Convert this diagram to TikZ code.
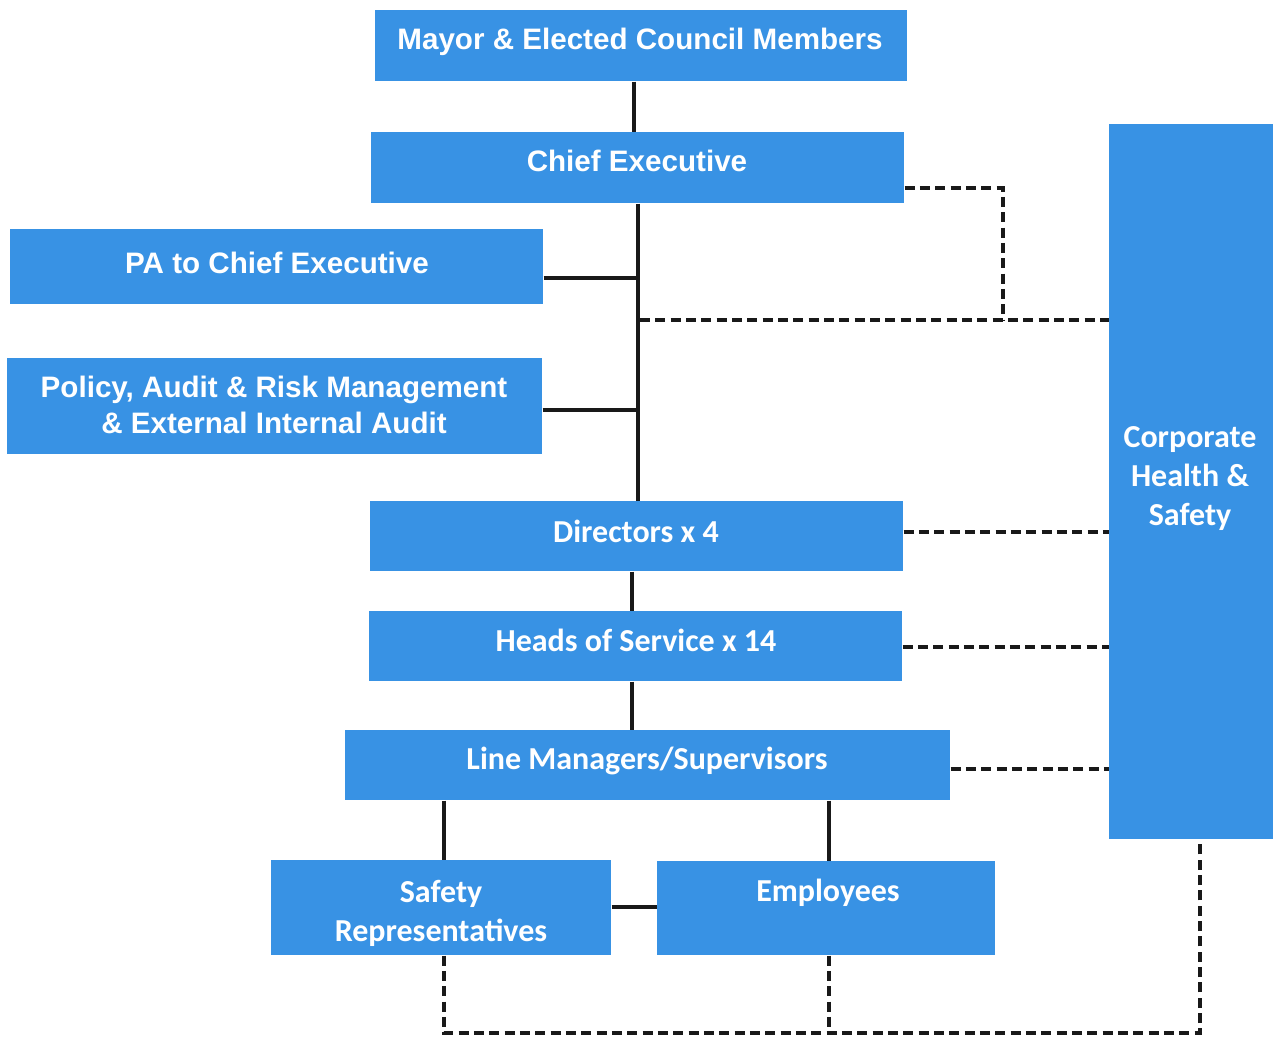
\documentclass[tikz,border=0pt]{standalone}
\usepackage{fontspec}
\setmainfont{Liberation Sans}
\newfontfamily\calfnt{Carlito}
\begin{document}
\begin{tikzpicture}[x=0.75pt,y=-0.75pt]
\definecolor{boxblue}{RGB}{56,146,228}
\tikzset{
  box/.style={fill=boxblue,draw=none,inner sep=0pt,anchor=north west},
  ar/.style={font=\bfseries\fontsize{22.2}{27}\selectfont,text=white,align=center},
  cb/.style={font=\calfnt\bfseries\fontsize{24}{29.25}\selectfont,text=white,align=center},
  solidln/.style={line width=3pt,black!90},
  dashln/.style={line width=2.6pt,black!90,dash pattern=on 7.5pt off 4pt}
}
\useasboundingbox (0,0) rectangle (1273,1036);
% boxes
\node[box,minimum width=532*0.75pt,minimum height=71*0.75pt] (mayor) at (375,10) {};
\node[box,minimum width=533*0.75pt,minimum height=71*0.75pt] (ce) at (371,132) {};
\node[box,minimum width=533*0.75pt,minimum height=75*0.75pt] (pa) at (10,229) {};
\node[box,minimum width=535*0.75pt,minimum height=96*0.75pt] (pol) at (7,358) {};
\node[box,minimum width=533*0.75pt,minimum height=70*0.75pt] (dir) at (370,501) {};
\node[box,minimum width=533*0.75pt,minimum height=70*0.75pt] (hos) at (369,611) {};
\node[box,minimum width=605*0.75pt,minimum height=70*0.75pt] (lm) at (345,730) {};
\node[box,minimum width=340*0.75pt,minimum height=95*0.75pt] (sr) at (271,860) {};
\node[box,minimum width=338*0.75pt,minimum height=94*0.75pt] (emp) at (657,861) {};
\node[box,minimum width=164*0.75pt,minimum height=715*0.75pt] (chs) at (1109,124) {};
% texts
\node[ar] (tmayor) at (640,42) {Mayor \& Elected Council Members};
\node[ar] (tce) at (637,161) {Chief Executive};
\node[ar] (tpa) at (277,263) {PA to Chief Executive};
\node[ar] (tpol) at (274,405) {Policy, Audit \& Risk Management\\\& External Internal Audit};
\node[cb] (tdir) at (636,531) {Directors x 4};
\node[cb] (thos) at (636,640) {Heads of Service x 14};
\node[cb] (tlm) at (647,761) {Line Managers/Supervisors};
\node[cb] (tsr) at (441,913) {Safety\\Representatives};
\node[cb] (temp) at (828,893) {Employees};
\node[cb] (tchs) at (1190,479) {Corporate\\Health \&\\Safety};
% solid connectors
\draw[solidln] (634,0 |- mayor.south) -- (634,0 |- ce.north);
\draw[solidln] (638,0 |- ce.south) -- (638,0 |- dir.north);
\draw[solidln] (pa.east |- 0,278) -- (638,278);
\draw[solidln] (pol.east |- 0,410) -- (638,410);
\draw[solidln] (632,0 |- dir.south) -- (632,0 |- hos.north);
\draw[solidln] (632,0 |- hos.south) -- (632,0 |- lm.north);
\draw[solidln] (444,0 |- lm.south) -- (444,0 |- sr.north);
\draw[solidln] (829,0 |- lm.south) -- (829,0 |- emp.north);
\draw[solidln] (sr.east |- 0,907) -- (emp.west |- 0,907);
% dashed connectors
\coordinate (corner1) at (1003,188);
\coordinate (junc) at (1003,320);
\draw[dashln] (ce.east |- 0,188) -- (corner1) -- (junc);
\draw[dashln] (640,320) -- (chs.west |- 0,320);
\draw[dashln] (dir.east |- 0,532) -- (chs.west |- 0,532);
\draw[dashln] (hos.east |- 0,647) -- (chs.west |- 0,647);
\draw[dashln] (lm.east |- 0,769) -- (chs.west |- 0,769);
\coordinate (bl) at (444,1033);
\coordinate (br) at (1200,1033);
\draw[dashln] (444,0 |- sr.south) -- (bl) -- (br) -- (1200,0 |- chs.south);
\draw[dashln] (829,0 |- emp.south) -- (829,1033);
\end{tikzpicture}
\end{document}
